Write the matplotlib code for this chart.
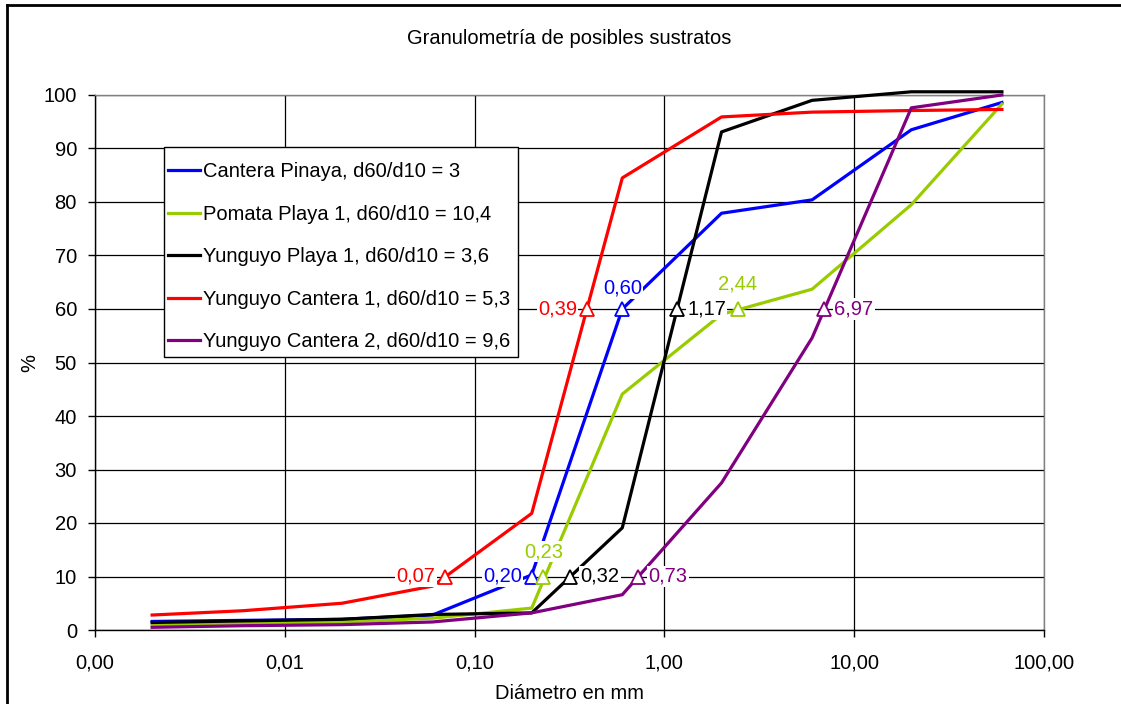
import numpy as np
import matplotlib.pyplot as plt
from matplotlib.lines import Line2D
from matplotlib.patches import Rectangle

plt.rcParams['font.family'] = ['Liberation Sans', 'DejaVu Sans']

# Tamices (mm) y porcentaje que pasa
diam = [0.002, 0.006, 0.02, 0.06, 0.2, 0.6, 2, 6, 20, 60]

pinaya = [1.6, 1.8, 2.0, 2.8, 10.3, 60.0, 77.9, 80.4, 93.5, 98.6]
pomata = [0.9, 1.2, 1.5, 2.2, 4.1, 44.1, 59.0, 63.7, 79.5, 98.3]
yung_playa = [1.4, 1.7, 2.0, 2.9, 3.2, 19.1, 93.1, 99.0, 100.6, 100.6]
yung_cant1 = [2.8, 3.6, 5.0, 8.2, 21.8, 84.5, 95.9, 96.8, 97.1, 97.3]
yung_cant2 = [0.5, 0.8, 1.0, 1.5, 3.2, 6.6, 27.5, 54.6, 97.6, 100.0]

names = ["Cantera Pinaya, d60/d10 = 3",
         "Pomata Playa 1, d60/d10 = 10,4",
         "Yunguyo Playa 1, d60/d10 = 3,6",
         "Yunguyo Cantera 1, d60/d10 = 5,3",
         "Yunguyo Cantera 2, d60/d10 = 9,6"]
series = [pinaya, pomata, yung_playa, yung_cant1, yung_cant2]
colors = ['#0000FF', '#99CC00', '#000000', '#FF0000', '#800080']

# diametros efectivos d10 y d60
d10 = [0.20, 0.23, 0.32, 0.07, 0.73]
d60 = [0.60, 2.44, 1.17, 0.39, 6.97]

# posicion de cada etiqueta respecto al triangulo (dx, dy en puntos, ha)
pos10 = [(-7, 0, 'right'), (0, 18, 'center'), (7, 0, 'left'), (-7, 0, 'right'), (7, 0, 'left')]
pos60 = [(0, 15, 'center'), (0, 18, 'center'), (7, 0, 'left'), (-7, 0, 'right'), (7, 0, 'left')]

xticks = [0.001, 0.01, 0.1, 1, 10, 100]
xticklabels = ["0,00", "0,01", "0,10", "1,00", "10,00", "100,00"]

FS = 14.5
W, H = 1121, 704

fig = plt.figure(figsize=(W / 100, H / 100), dpi=100)
ax = fig.add_axes([95/W, 1 - 630/H, (1044-95)/W, (630-95)/H])

for vals, name, c in zip(series, names, colors):
    ax.plot(diam, vals, color=c, lw=2.3, label=name, clip_on=False, zorder=3)

def fmt(v):
    return f"{v:.2f}".replace('.', ',')

for i, c in enumerate(colors):
    for d, yv, p in ((d10[i], 10, pos10[i]), (d60[i], 60, pos60[i])):
        ax.plot(d, yv, marker='^', ms=10, mfc='white', mec=c, mew=1.3, zorder=6)
        dx, dy, ha = p
        ax.annotate(fmt(d), (d, yv), xytext=(dx, dy), textcoords='offset points',
                    ha=ha, va='center', color=c, fontsize=FS, zorder=5,
                    bbox=dict(fc='white', ec='none', pad=1))

ax.set_xscale('log')
ax.set_xlim(0.001, 100)
ax.set_ylim(0, 100)
ax.set_xticks(xticks)
ax.set_xticklabels(xticklabels)
ax.xaxis.set_minor_locator(plt.NullLocator())
ax.set_yticks(np.arange(0, 101, 10))
ax.tick_params(axis='both', labelsize=FS, length=5, width=1, direction='out', pad=8)
ax.tick_params(axis='x', pad=12)
ax.grid(True, color='black', lw=0.9)
ax.set_axisbelow(True)
for s in ax.spines.values():
    s.set_color('black')
    s.set_linewidth(1)
ax.spines['top'].set_color('#808080')
ax.spines['right'].set_color('#808080')

ax.set_xlabel("Diámetro en mm", fontsize=FS, labelpad=8)
ax.set_ylabel("%", fontsize=FS, labelpad=3)
fig.text(0.5 * (95 + 1044) / W, 1 - 38/H, "Granulometría de posibles sustratos",
         ha='center', va='center', fontsize=FS)

# caja de la leyenda dibujada aparte (relleno blanco, borde negro)
def px2ax(x, y):
    return (x - 95) / 949, (630 - y) / 535

lx0, ly0 = px2ax(164, 357)
lx1, ly1 = px2ax(518, 147)
ax.add_patch(Rectangle((lx0, ly0), lx1 - lx0, ly1 - ly0, transform=ax.transAxes,
                       fc='white', ec='black', lw=1, zorder=9, clip_on=False))

leg = ax.legend(loc='upper left', bbox_to_anchor=px2ax(168, 162),
                borderaxespad=0, borderpad=0, fontsize=FS, frameon=False,
                handlelength=1.6, handletextpad=0.15, labelspacing=1.17)
leg.set_zorder(10)

# marco exterior del grafico
fig.add_artist(Line2D([7/W, 1], [1 - 5/H, 1 - 5/H], transform=fig.transFigure,
                      color='black', lw=2))
fig.add_artist(Line2D([7/W, 7/W], [0, 1 - 5/H], transform=fig.transFigure,
                      color='black', lw=2))

fig.savefig("out.png", dpi=100)
